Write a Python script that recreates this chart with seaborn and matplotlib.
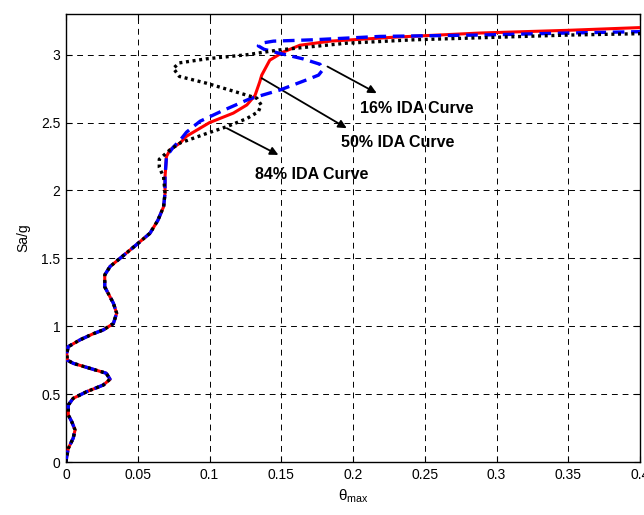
import matplotlib
matplotlib.use("Agg")
import matplotlib.pyplot as plt
import seaborn as sns

# ---- data ----
common_theta = [0.0, 0.0005, 0.0016, 0.005, 0.0063, 0.004, 0.0016, 0.0016, 0.005, 0.0144,
                0.026, 0.0307, 0.028, 0.0167, 0.005, 0.001, 0.0005, 0.0016, 0.0098, 0.019,
                0.026, 0.033, 0.0353, 0.033, 0.027, 0.027, 0.0307, 0.0376, 0.049, 0.0585,
                0.064, 0.068, 0.069]
common_sa = [0.0, 0.04, 0.10, 0.175, 0.236, 0.297, 0.346, 0.42, 0.469, 0.518,
             0.567, 0.61, 0.654, 0.69, 0.727, 0.75, 0.80, 0.85, 0.90, 0.945,
             0.973, 1.02, 1.096, 1.17, 1.29, 1.378, 1.44, 1.50, 1.60, 1.685,
             1.78, 1.88, 1.98]

tail16_theta = [0.069, 0.070, 0.0748, 0.0795, 0.084, 0.0934, 0.1096, 0.128, 0.149, 0.1677,
                0.176, 0.179, 0.177, 0.165, 0.149, 0.138, 0.134, 0.136, 0.1445, 0.172,
                0.219, 0.2885, 0.35, 0.4]
tail16_sa = [2.10, 2.25, 2.32, 2.37, 2.43, 2.51, 2.59, 2.675, 2.74, 2.815,
             2.85, 2.89, 2.93, 2.97, 3.01, 3.04, 3.065, 3.085, 3.10, 3.11,
             3.135, 3.145, 3.16, 3.17]

tail50_theta = [0.069, 0.070, 0.0725, 0.0795, 0.084, 0.100, 0.1166, 0.126, 0.1317, 0.135,
                0.1364, 0.142, 0.1514, 0.163, 0.184, 0.230, 0.2885, 0.35, 0.4]
tail50_sa = [2.10, 2.25, 2.30, 2.35, 2.40, 2.50, 2.57, 2.63, 2.70, 2.80,
             2.85, 2.96, 3.02, 3.07, 3.10, 3.13, 3.16, 3.18, 3.20]

tail84_theta = [0.068, 0.065, 0.065, 0.0725, 0.0795, 0.098, 0.112, 0.126, 0.134, 0.136,
                0.133, 0.114, 0.098, 0.079, 0.0748, 0.079, 0.098, 0.126, 0.149, 0.1956,
                0.242, 0.2885, 0.35, 0.4]
tail84_sa = [2.10, 2.17, 2.23, 2.30, 2.35, 2.42, 2.47, 2.53, 2.58, 2.63,
             2.68, 2.74, 2.79, 2.84, 2.90, 2.94, 2.97, 3.00, 3.036, 3.085,
             3.11, 3.125, 3.145, 3.155]

labels = ["16% IDA Curve", "50% IDA Curve", "84% IDA Curve"]
x_ticks = [0, 0.05, 0.1, 0.15, 0.2, 0.25, 0.3, 0.35, 0.4]
y_ticks = [0, 0.5, 1, 1.5, 2, 2.5, 3]

sns.set_theme(style="white")
plt.rcParams['font.family'] = ['Liberation Sans', 'DejaVu Sans']
plt.rcParams['text.color'] = 'black'
plt.rcParams['axes.labelcolor'] = 'black'
plt.rcParams['mathtext.fontset'] = 'custom'
plt.rcParams['mathtext.rm'] = 'Liberation Sans'
plt.rcParams['mathtext.it'] = 'Liberation Sans'

fig = plt.figure(figsize=(6.44, 5.15), dpi=100)
ax = fig.add_axes([0.1025, 0.1029, 0.8913, 0.8699])

t50 = common_theta + tail50_theta
s50 = common_sa + tail50_sa
t16 = common_theta + tail16_theta
s16 = common_sa + tail16_sa
t84 = common_theta + tail84_theta
s84 = common_sa + tail84_sa

line_kw = dict(sort=False, estimator=None, ax=ax, solid_joinstyle="round")
sns.lineplot(x=t50, y=s50, color="#ff0000", linewidth=2.2, zorder=3, **line_kw)
sns.lineplot(x=t16, y=s16, color="#0000ff", linewidth=2.4,
             linestyle=(0, (3.5, 2)), zorder=4, **line_kw)
sns.lineplot(x=t84, y=s84, color="black", linewidth=2.4,
             linestyle=(0, (0.9, 1.1)), zorder=5, **line_kw)

ax.set_xlim(0, 0.4)
ax.set_ylim(0, 3.3)
ax.set_xticks(x_ticks)
ax.set_yticks(y_ticks)
ax.set_xticklabels([f"{v:g}" for v in x_ticks])
ax.set_yticklabels([f"{v:g}" for v in y_ticks])
ax.tick_params(direction="in", length=4, width=0.8, top=True, right=True,
               bottom=True, left=True, labelsize=10, colors="black", pad=4)
ax.grid(True, color="black", linestyle=(0, (6, 5)), linewidth=0.7)
for sp in ax.spines.values():
    sp.set_color("black")
    sp.set_linewidth(1.0)

ax.set_xlabel(r"$\theta_{\mathrm{max}}$", fontsize=11, color="black", labelpad=4)
ax.set_ylabel("Sa/g", fontsize=10, color="black", labelpad=8)

arr = dict(arrowstyle="-|>", color="black", lw=1.3, mutation_scale=12, shrinkA=0, shrinkB=0)
ax.annotate("", xy=(0.2165, 2.717), xytext=(0.1822, 2.913), arrowprops=arr)
ax.text(0.2446, 2.605, labels[0], ha="center", va="center", fontsize=11.5,
        fontweight="bold", color="black", zorder=6)
ax.annotate("", xy=(0.1956, 2.459), xytext=(0.1364, 2.827), arrowprops=arr)
ax.text(0.2314, 2.354, labels[1], ha="center", va="center", fontsize=11.5,
        fontweight="bold", color="black", zorder=6)
ax.annotate("", xy=(0.148, 2.262), xytext=(0.112, 2.459), arrowprops=arr)
ax.text(0.171, 2.115, labels[2], ha="center", va="center", fontsize=11.5,
        fontweight="bold", color="black", zorder=6)

fig.savefig("out.png", dpi=100)
